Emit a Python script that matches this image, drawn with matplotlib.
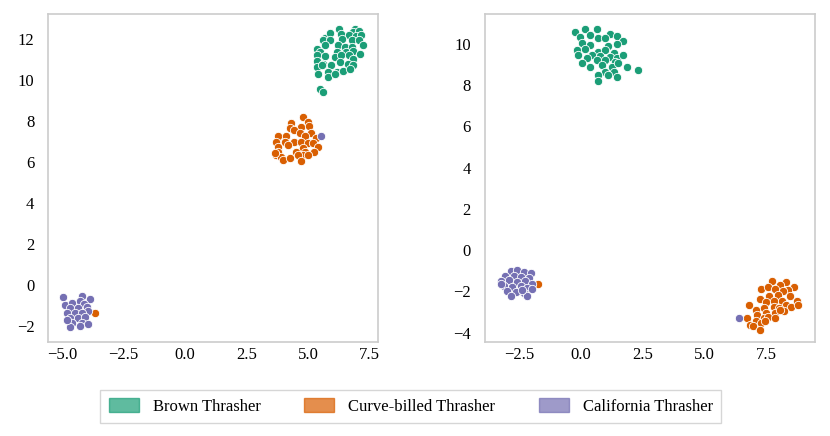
import matplotlib.pyplot as plt
from matplotlib.patches import Patch

classes = ['Brown Thrasher', 'Curve-billed Thrasher', 'California Thrasher']
colors = ['#1b9e77', '#d95f02', '#7570b3']

# left panel
left_brown_x = [6.26, 6.89, 6.82, 7.07, 6.35, 6.66, 6.93, 7.16, 5.67, 5.88, 5.61, 5.88, 6.39,
                6.76, 7.07, 7.23, 5.67, 6.22, 6.49, 6.76, 5.34, 5.47, 6.15, 6.55, 6.82, 7.12,
                5.34, 5.67, 6.08, 6.35, 6.66, 6.82, 5.34, 5.61, 5.94, 6.28, 6.62, 6.82, 5.34,
                5.54, 5.40, 5.81, 6.15, 6.42, 6.69, 5.81, 6.08, 5.47, 5.61]
left_brown_y = [12.50, 12.50, 12.34, 12.37, 12.26, 12.18, 12.15, 12.18, 12.05, 12.31, 11.93,
                11.93, 12.02, 11.93, 11.93, 11.72, 11.72, 11.72, 11.61, 11.61, 11.53, 11.37,
                11.37, 11.37, 11.40, 11.28, 11.20, 11.17, 11.12, 11.20, 11.20, 11.04, 10.91,
                10.80, 10.75, 10.88, 10.80, 10.75, 10.63, 10.75, 10.31, 10.39, 10.39, 10.42,
                10.55, 10.15, 10.31, 9.58, 9.41]
left_curve_x = [4.78, 4.98, 4.31, 4.71, 5.05, 4.24, 4.44, 5.12, 4.65, 3.77, 4.10, 4.85, 5.32,
                3.70, 4.04, 4.44, 4.71, 4.98, 5.19, 3.77, 4.17, 4.78, 5.39, 3.77, 4.51, 4.85,
                5.25, 3.70, 3.90, 4.78, 3.63, 3.97, 4.24, 4.58, 4.71, 4.98, -3.66]
left_curve_y = [8.21, 7.97, 7.89, 7.72, 7.76, 7.64, 7.56, 7.40, 7.40, 7.24, 7.24, 7.24, 7.16,
                6.99, 6.99, 6.99, 6.99, 6.91, 6.91, 6.75, 6.83, 6.67, 6.75, 6.50, 6.50, 6.50,
                6.50, 6.34, 6.26, 6.34, 6.42, 6.10, 6.18, 6.34, 6.02, 6.34, -1.35]
left_calif_x = [-4.95, -4.20, -3.86, -4.88, -4.61, -4.27, -4.13, -4.68, -4.34, -4.00, -3.93,
                -4.81, -4.47, -4.20, -4.68, -4.34, -4.07, -4.61, -4.20, -3.93, -4.68, -4.27,
                -4.81, 5.52]
left_calif_y = [-0.60, -0.54, -0.70, -0.98, -0.89, -0.81, -0.93, -1.14, -1.14, -1.06, -1.30,
                -1.38, -1.38, -1.35, -1.63, -1.63, -1.58, -1.87, -1.87, -1.90, -2.07, -2.03,
                -1.71, 7.27]

# right panel
right_brown_x = [-0.24, 0.16, 0.64, 1.17, 1.44, 0.37, -0.04, 0.70, 0.97, 1.71, 0.03, 0.37,
                 1.10, 1.44, -0.17, 0.16, 0.70, 0.97, 1.31, -0.11, 0.43, 0.77, 1.17, 1.44,
                 1.71, 0.23, 0.64, 0.97, 1.37, 0.03, 0.37, 0.83, 1.23, 1.50, 1.84, 2.31,
                 0.97, 1.31, 0.70, 1.10, 1.44, 0.70]
right_brown_y = [10.58, 10.74, 10.71, 10.50, 10.39, 10.42, 10.34, 10.29, 10.26, 10.13, 10.02,
                 9.94, 9.90, 9.97, 9.69, 9.77, 9.61, 9.69, 9.58, 9.45, 9.48, 9.42, 9.37, 9.32,
                 9.45, 9.29, 9.21, 9.21, 9.13, 9.05, 8.89, 8.97, 8.89, 9.05, 8.89, 8.72, 8.64,
                 8.64, 8.48, 8.48, 8.40, 8.19]
right_curve_x = [7.73, 8.29, 8.07, 8.62, 7.30, 7.58, 7.85, 8.40, 8.18, 7.63, 7.96, 8.45, 8.73,
                 7.24, 7.51, 7.80, 8.12, 8.29, 7.08, 7.41, 7.80, 8.01, 8.51, 8.78, 7.51, 7.85,
                 8.23, 6.80, 7.13, 7.41, 7.58, 7.85, 8.07, 7.08, 7.30, 7.46, 6.74, 6.86, 6.96,
                 7.24, -1.75]
right_curve_y = [-1.51, -1.55, -1.68, -1.81, -1.87, -1.81, -1.87, -1.92, -2.00, -2.24, -2.16,
                 -2.24, -2.45, -2.35, -2.52, -2.45, -2.48, -2.65, -2.89, -2.81, -2.77, -2.81,
                 -2.77, -2.65, -3.05, -3.05, -2.97, -2.68, -3.13, -3.29, -3.26, -3.29, -2.89,
                 -3.45, -3.53, -3.45, -3.29, -3.65, -3.70, -3.86, -1.63]
right_calif_x = [-2.86, -2.60, -2.32, -2.05, -3.07, -2.72, -2.45, -2.12, -3.26, -2.93, -2.60,
                 -2.26, -1.99, -3.13, -2.80, -2.45, -2.19, -1.99, -2.99, -2.66, -2.32, -2.86,
                 -2.19, -3.26, -2.39, 6.41]
right_calif_y = [-1.03, -0.98, -1.08, -1.11, -1.27, -1.24, -1.30, -1.35, -1.51, -1.47, -1.56,
                 -1.51, -1.63, -1.76, -1.79, -1.73, -1.84, -1.89, -2.00, -2.05, -2.08, -2.21,
                 -2.21, -1.63, -1.95, -3.29]

plt.rcParams['font.family'] = ['Liberation Serif', 'DejaVu Serif']
plt.rcParams['font.size'] = 12

fig = plt.figure(figsize=(8.3, 4.36), dpi=100)
ax1 = fig.add_axes([0.058, 0.216, 0.397, 0.752])
ax2 = fig.add_axes([0.584, 0.216, 0.398, 0.752])

panels = [
    (ax1, [(left_brown_x, left_brown_y), (left_curve_x, left_curve_y), (left_calif_x, left_calif_y)]),
    (ax2, [(right_brown_x, right_brown_y), (right_curve_x, right_curve_y), (right_calif_x, right_calif_y)]),
]

for ax, groups in panels:
    for (xs, ys), c in zip(groups, colors):
        ax.scatter(xs, ys, s=36, color=c, edgecolor='white', linewidth=0.6, zorder=3)
    for sp in ax.spines.values():
        sp.set_color('#cccccc')
        sp.set_linewidth(1.2)
    ax.tick_params(axis='x', length=0, labelsize=12, pad=4)
    ax.tick_params(axis='y', length=0, labelsize=12, pad=10)

ax1.set_xlim(-5.57, 7.82)
ax1.set_ylim(-2.78, 13.22)
ax1.set_xticks([-5.0, -2.5, 0.0, 2.5, 5.0, 7.5])
ax1.set_yticks([-2, 0, 2, 4, 6, 8, 10, 12])

ax2.set_xlim(-3.91, 9.48)
ax2.set_ylim(-4.45, 11.45)
ax2.set_xticks([-2.5, 0.0, 2.5, 5.0, 7.5])
ax2.set_yticks([-4, -2, 0, 2, 4, 6, 8, 10])

handles = [Patch(facecolor=c, edgecolor=c, alpha=0.7, label=l) for c, l in zip(colors, classes)]
leg = fig.legend(handles=handles, loc='center', bbox_to_anchor=(0.495, 0.068), ncol=3,
                 fontsize=12, handlelength=1.8, handleheight=0.9, columnspacing=2.6,
                 handletextpad=0.85, fancybox=False, frameon=True, borderpad=0.5)
leg.get_frame().set_edgecolor('#cccccc')

fig.savefig('out.png', dpi=100)
